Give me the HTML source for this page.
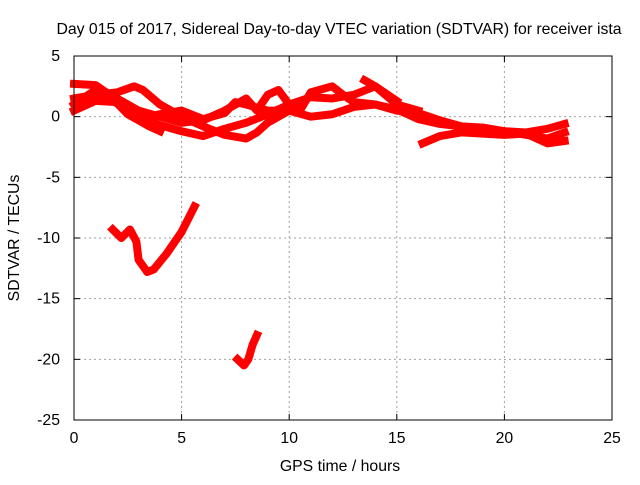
<!DOCTYPE html>
<html><head><meta charset="utf-8"><style>
body{margin:0;background:#fff}
svg text{font-family:"Liberation Sans",sans-serif;font-size:15.8px;fill:#000}
</style></head><body>
<svg width="640" height="480" id="c">
<text x="339" y="34" text-anchor="middle">Day 015 of 2017, Sidereal Day-to-day VTEC variation (SDTVAR) for receiver ista</text>
<text x="340" y="471" text-anchor="middle">GPS time / hours</text>
<text x="0" y="0" transform="translate(19,238) rotate(-90)" text-anchor="middle">SDTVAR / TECUs</text>
<g id="grid"></g><g id="series"></g>
<rect x="74" y="56" width="538" height="364" fill="none" stroke="#000"/>
</svg>
<script>
const xTicks=[0,5,10,15,20,25];
const yTicks=[5,0,-5,-10,-15,-20,-25];
const trackA=[[0,2.7],[1,2.6],[1.5,2.0],[2.5,0.2],[3.5,-0.8],[4,-1.2]];
const trackB=[[0,1.5],[1,1.8],[2,2.0],[2.8,2.5],[3.2,2.2],[4,1.0],[5,0],[6,-0.8],[7,-1.5],[8,-1.8],[8.5,-1.3],[9,-0.5],[9.5,0],[10,0.5]];
const trackC=[[0,0.5],[1,1.3],[2,1.2],[3,0],[4,-0.7],[5,-1.2],[6,-1.6],[7,-1.0],[8,-0.5],[9,0.2],[10,1.0],[11,1.6],[12,1.5],[13,1.8],[14,2.5],[15,1.3]];
const trackD=[[0,1.0],[1,2.2],[2,1.5],[3,0.5],[4,0],[5,-0.5],[6,-0.3],[7,0.5],[8,1.5],[8.5,0.5],[9,1.8],[9.5,2.2],[10,1.0],[10.5,0.5],[11,2.0],[12,2.5],[12.5,1.8],[13,1.2],[14,1.0],[15,0.5],[16,0.3],[17,-0.3],[18,-0.8],[19,-0.9],[20,-1.2],[21,-1.5],[22,-1.8],[22.8,-1.3]];
const trackE=[[4,0.2],[5,0.5],[6,-0.2],[7,0.3],[7.5,1.2],[8,1.0],[9,0.5],[10,0.5],[11,0],[12,0.2],[13,0.8],[14,1.0],[15,0.6],[16,-0.2],[17,-0.6],[18,-0.8],[19,-1],[20,-1.2],[21,-1.3],[22,-1.0],[22.8,-0.6]];
const trackF=[[16.2,-2.2],[17,-1.6],[18,-1.3],[19,-1.4],[20,-1.5],[21,-1.4],[22,-2.2],[22.8,-2.0]];
const trackG=[[13.5,3.0],[14,2.5],[15,1.0],[16,0.5]];
const trackH=[[1.8,-9.3],[2.2,-10.0],[2.6,-9.3],[2.9,-10.3],[3.0,-11.8],[3.4,-12.8],[3.7,-12.6],[4.3,-11.3],[5,-9.5],[5.6,-7.4]];
const trackI=[[7.6,-20.0],[7.9,-20.5],[8.1,-20.0],[8.3,-18.8],[8.5,-18.0]];
const tracks=[trackA,trackB,trackC,trackD,trackE,trackF,trackG,trackH,trackI];
const NS='http://www.w3.org/2000/svg';
const X=v=>74+v/25*538, Y=v=>56+(5-v)/30*364;
const g=document.getElementById('grid'), s=document.getElementById('series');
function mk(t,a,p){const e=document.createElementNS(NS,t);for(const k in a)e.setAttribute(k,a[k]);p.appendChild(e);return e;}
xTicks.forEach(v=>{
 if(v>0&&v<25){const l=mk('line',{x1:X(v),x2:X(v),y1:56,y2:420,stroke:'#a0a0a0','stroke-dasharray':'2,3'},g);
 
 }
 mk('line',{x1:X(v),x2:X(v),y1:420,y2:414,stroke:'#000'},g);
 mk('line',{x1:X(v),x2:X(v),y1:56,y2:62,stroke:'#000'},g);
 const t=mk('text',{x:X(v),y:443,'text-anchor':'middle'},g);t.textContent=v;
 
 
});
yTicks.forEach(v=>{
 if(v<5&&v>-25){const l=mk('line',{x1:74,x2:612,y1:Y(v),y2:Y(v),stroke:'#a0a0a0','stroke-dasharray':'2,3'},g);
 
 }
 mk('line',{x1:74,x2:80,y1:Y(v),y2:Y(v),stroke:'#000'},g);
 mk('line',{x1:606,x2:612,y1:Y(v),y2:Y(v),stroke:'#000'},g);
 const t=mk('text',{x:60,y:Y(v)+5,'text-anchor':'end'},g);t.textContent=v;
 
 
});
tracks.forEach(tr=>{
 const p=mk('polyline',{points:tr.map(d=>X(d[0])+','+Y(d[1])).join(' '),fill:'none',stroke:'#f00','stroke-width':8,'stroke-linejoin':'round','stroke-linecap':'square'},s);
 
 
});
</script>
</body></html>
